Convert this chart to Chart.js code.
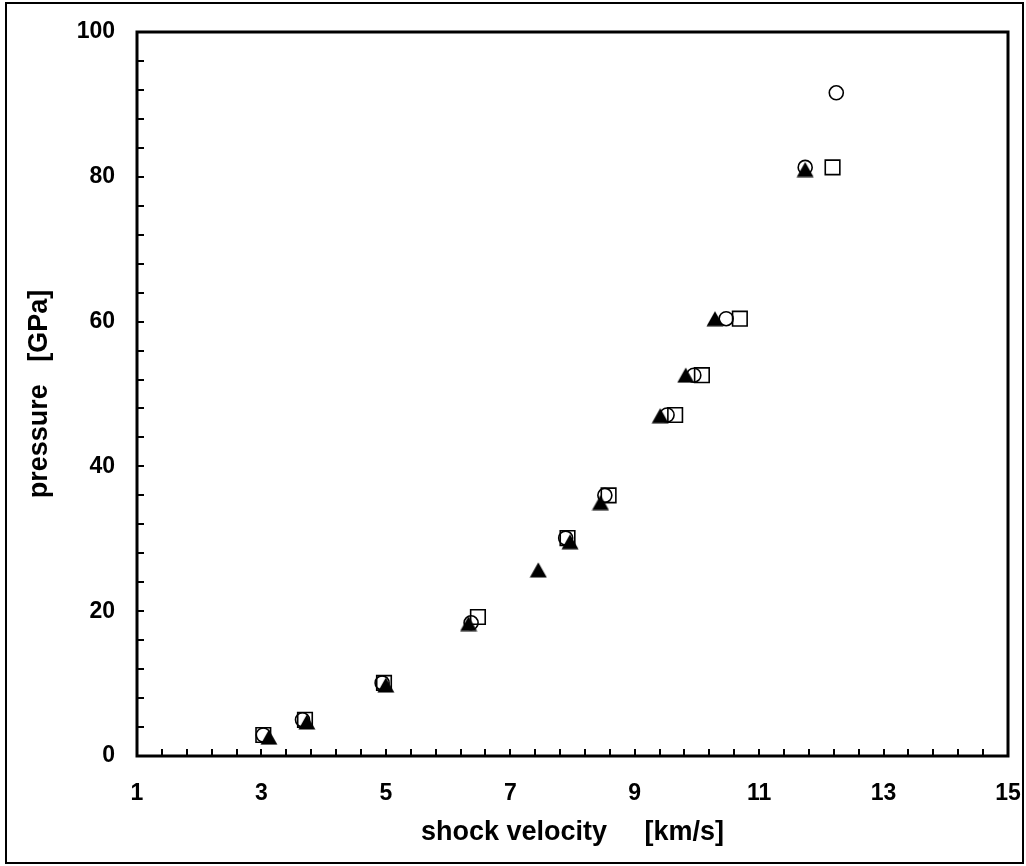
<!DOCTYPE html>
<html>
<head>
<meta charset="utf-8">
<script src="https://cdn.jsdelivr.net/npm/chart.js@4/dist/chart.umd.min.js"></script>
<style>
  html, body { margin: 0; padding: 0; background: #fff; }
  #wrap { width: 1026px; height: 866px; }
</style>
</head>
<body>
<div id="wrap"><canvas id="myChart" width="1026" height="866"></canvas></div>
<script>
// shock velocity [km/s] / pressure [GPa]
const circleX   = [3.03, 3.66, 4.94, 6.37, 7.89, 8.52, 9.52, 9.95, 10.47, 11.74, 12.24];
const circleY   = [2.9, 5.0, 10.1, 18.4, 30.1, 36.0, 47.1, 52.6, 60.4, 81.3, 91.6];
const squareX   = [3.03, 3.70, 4.97, 6.48, 7.92, 8.58, 9.65, 10.08, 10.69, 12.18];
const squareY   = [2.9, 5.0, 10.1, 19.2, 30.1, 36.0, 47.1, 52.6, 60.4, 81.3];
const triangleX = [3.12, 3.73, 5.00, 6.33, 7.45, 7.96, 8.45, 9.41, 9.82, 10.29, 11.74];
const triangleY = [2.6, 4.7, 9.8, 18.3, 25.7, 29.6, 35.0, 47.0, 52.6, 60.4, 81.0];

const xTickLabels = [1, 3, 5, 7, 9, 11, 13, 15];
const yTickLabels = [0, 20, 40, 60, 80, 100];

const toPoints = (xs, ys) => xs.map((x, i) => ({x: x, y: ys[i]}));

// filled triangle marker, centred on its bounding box like the original
function triangleMarker() {
    const c = document.createElement('canvas');
    c.width = 18; c.height = 16;
    const g = c.getContext('2d');
    g.fillStyle = '#000';
    g.beginPath();
    g.moveTo(9, 0.5);
    g.lineTo(17.5, 15.5);
    g.lineTo(0.5, 15.5);
    g.closePath();
    g.fill();
    return c;
}

// plot frame, inward tick marks and outer border
const framePlugin = {
    id: 'frame',
    afterDraw(chart) {
        const ctx = chart.ctx;
        const a = chart.chartArea;
        const xs = chart.scales.x, ys = chart.scales.y;
        ctx.save();
        ctx.strokeStyle = '#000';

        ctx.lineWidth = 2;
        ctx.strokeRect(6, 3, 1017, 860);

        ctx.lineWidth = 2;
        for (let i = 0; i <= 35; i++) {
            const px = Math.round(xs.getPixelForValue(1 + i * 0.4));
            ctx.beginPath();
            ctx.moveTo(px, a.bottom);
            ctx.lineTo(px, a.bottom - 7);
            ctx.stroke();
        }
        for (let i = 0; i <= 25; i++) {
            const py = Math.round(ys.getPixelForValue(i * 4));
            ctx.beginPath();
            ctx.moveTo(a.left, py);
            ctx.lineTo(a.left + 7, py);
            ctx.stroke();
        }

        ctx.lineWidth = 3;
        ctx.strokeRect(a.left, a.top, a.right - a.left, a.bottom - a.top);
        ctx.restore();
    }
};

document.addEventListener("DOMContentLoaded", () => {
    const ctx = document.getElementById('myChart').getContext('2d');
    const tickFont = {family: 'Liberation Sans, Arial, sans-serif', size: 23, weight: 'bold'};
    const titleFont = {family: 'Liberation Sans, Arial, sans-serif', size: 27, weight: 'bold'};

    new Chart(ctx, {
        type: 'scatter',
        data: {
            datasets: [{
                label: 'triangle',
                data: toPoints(triangleX, triangleY),
                pointStyle: triangleMarker(),
                pointRadius: 9
            }, {
                label: 'circle',
                data: toPoints(circleX, circleY),
                pointStyle: 'circle',
                pointRadius: 7,
                borderColor: '#000',
                backgroundColor: 'rgba(0,0,0,0)',
                borderWidth: 1.6
            }, {
                label: 'square',
                data: toPoints(squareX, squareY),
                pointStyle: 'rect',
                pointRadius: 10.3,
                borderColor: '#000',
                backgroundColor: 'rgba(0,0,0,0)',
                borderWidth: 1.6
            }]
        },
        options: {
            responsive: false,
            animation: false,
            layout: {padding: {left: 0, top: 32, right: 18, bottom: 0}},
            plugins: {legend: {display: false}, tooltip: {enabled: false}},
            scales: {
                x: {
                    type: 'linear',
                    min: 1,
                    max: 15,
                    afterBuildTicks: s => { s.ticks = xTickLabels.map(v => ({value: v})); },
                    afterFit: s => { s.height = 110; s.paddingLeft = 0; s.paddingRight = 0; },
                    grid: {display: false, drawTicks: false},
                    border: {display: false},
                    ticks: {color: '#000', font: tickFont, padding: 24, maxRotation: 0},
                    title: {display: true, text: 'shock velocity     [km/s]', color: '#000',
                            font: titleFont, padding: {top: 0, bottom: 17}}
                },
                y: {
                    type: 'linear',
                    min: 0,
                    max: 100,
                    afterBuildTicks: s => { s.ticks = yTickLabels.map(v => ({value: v})); },
                    afterFit: s => { s.width = 137; s.paddingTop = 0; s.paddingBottom = 0; },
                    grid: {display: false, drawTicks: false},
                    border: {display: false},
                    ticks: {color: '#000', font: tickFont, padding: 22},
                    title: {display: true, text: 'pressure   [GPa]', color: '#000',
                            font: titleFont, padding: {top: 23, bottom: 0}}
                }
            }
        },
        plugins: [framePlugin]
    });
});
</script>
</body>
</html>
